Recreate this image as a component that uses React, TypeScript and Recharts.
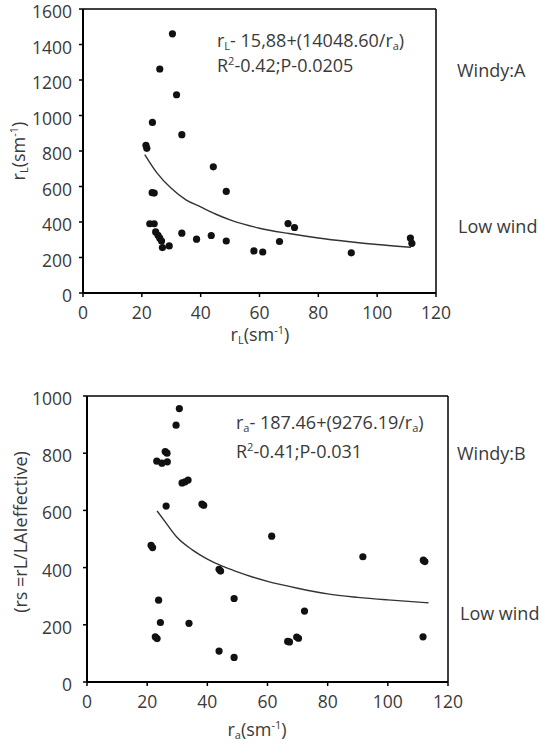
import React from "react";
import {
  ComposedChart,
  Scatter,
  Line,
  XAxis,
  YAxis,
  ReferenceLine,
} from "recharts";

// Panel A: leaf resistance vs aerodynamic resistance
const aRa = [
  30.4, 26.1, 31.8, 23.6, 33.6, 21.4, 21.7, 44.3, 23.5, 24.2, 48.7, 22.7, 24.2,
  24.7, 25.5, 26.1, 26.7, 27.0, 29.3, 33.6, 38.6, 43.6, 48.7, 58.1, 61.1, 66.8,
  69.7, 71.9, 91.2, 111.3, 111.8,
];
const aRl = [
  1460, 1262, 1117, 961, 892, 832, 815, 711, 565, 563, 572, 390, 390, 344, 325,
  309, 293, 256, 265, 337, 303, 324, 293, 237, 231, 290, 391, 369, 226, 310, 280,
];
const aFitX = [21, 25, 30, 35, 40, 45, 50, 60, 70, 80, 90, 100, 111.5];
const aFitY = [780, 680, 590, 525, 485, 445, 412, 365, 335, 310, 290, 273, 258];
const aTicksY = [0, 200, 400, 600, 800, 1000, 1200, 1400, 1600];

// Panel B: stomatal resistance vs aerodynamic resistance
const bRa = [
  30.7, 29.6, 26.0, 26.6, 23.2, 24.9, 26.7, 31.6, 32.6, 33.6, 26.3, 38.2, 38.8,
  21.3, 21.8, 43.9, 44.4, 48.9, 23.8, 24.4, 33.9, 22.7, 23.3, 43.9, 48.9, 61.4,
  91.7, 111.8, 112.3, 72.3, 66.7, 67.3, 69.7, 70.3, 111.7,
];
const bRs = [
  956, 898, 806, 800, 772, 765, 770, 696, 700, 706, 615, 622, 618, 478, 470, 394,
  388, 292, 286, 208, 205, 158, 152, 108, 86, 510, 438, 426, 421, 248, 142, 140,
  157, 153, 158,
];
const bFitX = [23.3, 26, 30, 35, 40, 45, 50, 55, 60, 70, 80, 90, 100, 113.5];
const bFitY = [598, 560, 505, 462, 430, 405, 385, 367, 352, 328, 308, 296, 287, 277];
const bTicksY = [0, 200, 400, 600, 800, 1000];

const ticksX = [0, 20, 40, 60, 80, 100, 120];

const FONT = "'Open Sans', sans-serif";
const TEXT = "#3a3a3a";
const TICK_SIZE = 17.5;

const zip = (xs: number[], ys: number[]) => xs.map((x, i) => ({ x, y: ys[i] }));

const Dot = (props: any) => (
  <circle cx={props.cx} cy={props.cy} r={3.6} fill="#111" />
);

// tick labels sit a little below their tick marks, Excel style
const XTick = (props: any) => (
  <text
    x={props.x}
    y={props.y + 22}
    textAnchor="middle"
    fill={TEXT}
    fontSize={TICK_SIZE}
    fontFamily={FONT}
  >
    {props.payload.value}
  </text>
);

const makeYTick = (gap: number) => (props: any) => (
  <text
    x={props.x - gap}
    y={props.y + 9}
    textAnchor="end"
    fill={TEXT}
    fontSize={TICK_SIZE}
    fontFamily={FONT}
  >
    {props.payload.value}
  </text>
);

interface PanelProps {
  points: { x: number; y: number }[];
  fit: { x: number; y: number }[];
  yMax: number;
  yTicks: number[];
  width: number;
  height: number;
  margin: { top: number; right: number; left: number; bottom: number };
  yAxisWidth: number;
  xAxisHeight: number;
  labelGap: number;
}

function Panel({ points, fit, yMax, yTicks, width, height, margin, yAxisWidth, xAxisHeight, labelGap }: PanelProps) {
  return (
    <ComposedChart width={width} height={height} margin={margin}>
      <XAxis
        type="number"
        dataKey="x"
        domain={[0, 120]}
        ticks={ticksX}
        height={xAxisHeight}
        tick={<XTick />}
        tickSize={4}
        tickMargin={0}
        axisLine={{ stroke: "#000", strokeWidth: 2 }}
        tickLine={{ stroke: "#000", strokeWidth: 1.5 }}
        interval={0}
      />
      <YAxis
        type="number"
        dataKey="y"
        domain={[0, yMax]}
        ticks={yTicks}
        width={yAxisWidth}
        tick={makeYTick(labelGap)}
        tickSize={4}
        tickMargin={0}
        axisLine={{ stroke: "#000", strokeWidth: 2 }}
        tickLine={{ stroke: "#000", strokeWidth: 1.5 }}
        interval={0}
      />
      <ReferenceLine y={yMax} stroke="#000" strokeWidth={1.5} />
      <ReferenceLine x={120} stroke="#000" strokeWidth={1.5} />
      <Line
        data={fit}
        dataKey="y"
        type="monotone"
        stroke="#333"
        strokeWidth={1.4}
        dot={false}
        isAnimationActive={false}
      />
      <Scatter data={points} dataKey="y" shape={Dot} isAnimationActive={false} />
    </ComposedChart>
  );
}

export default function App() {
  const txt = { fill: TEXT, fontSize: 18, fontFamily: FONT };
  const sub = { fontSize: 11 };
  return (
    <div style={{ position: "absolute", left: 0, top: 0, width: 539, height: 745, background: "#fff" }}>
      <div style={{ position: "absolute", left: 0, top: 0 }}>
        <Panel
          points={zip(aRa, aRl)}
          fit={zip(aFitX, aFitY)}
          yMax={1600}
          yTicks={aTicksY}
          width={539}
          height={345}
          margin={{ top: 9, right: 103, left: 0, bottom: 0 }}
          yAxisWidth={83}
          xAxisHeight={52}
          labelGap={7}
        />
      </div>
      <div style={{ position: "absolute", left: 0, top: 370 }}>
        <Panel
          points={zip(bRa, bRs)}
          fit={zip(bFitX, bFitY)}
          yMax={1000}
          yTicks={bTicksY}
          width={539}
          height={375}
          margin={{ top: 26, right: 91, left: 0, bottom: 0 }}
          yAxisWidth={87}
          xAxisHeight={63}
          labelGap={11}
        />
      </div>
      <svg
        width={539}
        height={745}
        style={{ position: "absolute", left: 0, top: 0, pointerEvents: "none" }}
      >
        {/* panel A annotations */}
        <text x={217} y={47} {...txt}>
          r<tspan {...sub} dy={3}>L</tspan>
          <tspan dy={-3}>- 15,88+(14048.60/r</tspan>
          <tspan {...sub} dy={3}>a</tspan>
          <tspan dy={-3}>)</tspan>
        </text>
        <text x={217} y={72} {...txt}>
          R<tspan {...sub} dy={-7}>2</tspan>
          <tspan dy={7}>-0.42;P-0.0205</tspan>
        </text>
        <text x={457} y={77} {...txt}>Windy:A</text>
        <text x={458} y={233} {...txt}>Low wind</text>
        <text x={260} y={341} textAnchor="middle" {...txt}>
          r<tspan {...sub} dy={3}>L</tspan>
          <tspan dy={-3}>(sm</tspan>
          <tspan {...sub} dy={-7}>-1</tspan>
          <tspan dy={7}>)</tspan>
        </text>
        <text x={25} y={151} textAnchor="middle" transform="rotate(-90 25 151)" {...txt}>
          r<tspan {...sub} dy={3}>L</tspan>
          <tspan dy={-3}>(sm</tspan>
          <tspan {...sub} dy={-7}>-1</tspan>
          <tspan dy={7}>)</tspan>
        </text>

        {/* panel B annotations */}
        <text x={236} y={429} {...txt}>
          r<tspan {...sub} dy={3}>a</tspan>
          <tspan dy={-3}>- 187.46+(9276.19/r</tspan>
          <tspan {...sub} dy={3}>a</tspan>
          <tspan dy={-3}>)</tspan>
        </text>
        <text x={236} y={458} {...txt}>
          R<tspan {...sub} dy={-7}>2</tspan>
          <tspan dy={7}>-0.41;P-0.031</tspan>
        </text>
        <text x={457} y={460} {...txt}>Windy:B</text>
        <text x={460} y={620} {...txt}>Low wind</text>
        <text x={257} y={736} textAnchor="middle" {...txt}>
          r<tspan {...sub} dy={3}>a</tspan>
          <tspan dy={-3}>(sm</tspan>
          <tspan {...sub} dy={-7}>-1</tspan>
          <tspan dy={7}>)</tspan>
        </text>
        <text x={27} y={532} textAnchor="middle" transform="rotate(-90 27 532)" {...txt}>
          (rs =rL/LAIeffective)
        </text>
      </svg>
    </div>
  );
}
